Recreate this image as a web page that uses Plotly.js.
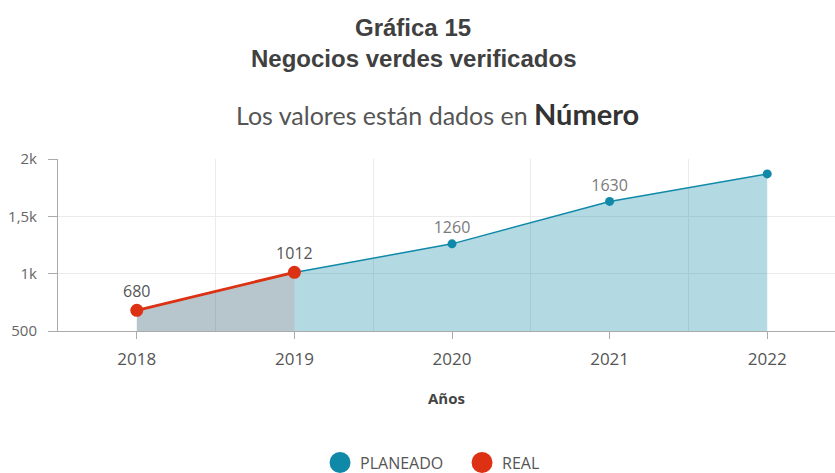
<!DOCTYPE html>
<html>
<head>
<meta charset="utf-8">
<script src="https://cdn.plot.ly/plotly-3.0.1.min.js"></script>
<style>html,body{margin:0;padding:0;background:#fff;}#chart{width:835px;height:473px;}</style>
</head>
<body>
<div id="chart"></div>
<script>
const years = [2018, 2019, 2020, 2021, 2022];
const planeado = [680, 1010, 1260, 1630, 1870];
const realYears = [2018, 2019];
const real = [680, 1012];
const planeadoLabels = ['', '', '1260', '1630', ''];
const realLabels = ['680', '1012'];
const yTickVals = [500, 1000, 1500, 2000];
const yTickText = ['500', '1k', '1,5k', '2k'];
const seriesNames = ['PLANEADO', 'REAL'];

const blue = '#1089a9';
const red = '#dc3112';

const traces = [
  {
    x: years, y: planeado, type: 'scatter', mode: 'lines+markers+text',
    name: seriesNames[0], showlegend: false,
    fill: 'tozeroy', fillcolor: 'rgba(18,137,168,0.32)',
    line: {color: blue, width: 1.5},
    marker: {color: blue, size: 9},
    text: planeadoLabels, textposition: 'top center',
    textfont: {family: 'Open Sans', size: 16, color: '#7a7a7a'},
    hoverinfo: 'x+y'
  },
  {
    x: realYears, y: real, type: 'scatter', mode: 'lines+markers+text',
    name: seriesNames[1], showlegend: false,
    fill: 'tozeroy', fillcolor: 'rgba(222,48,16,0.11)',
    line: {color: red, width: 2.8},
    marker: {color: red, size: 13},
    text: realLabels, textposition: 'top center',
    textfont: {family: 'Open Sans', size: 16, color: '#555'},
    hoverinfo: 'x+y'
  },
  {
    x: [null], y: [null], type: 'scatter', mode: 'markers', name: seriesNames[0],
    marker: {color: blue, size: 16, line: {color: blue, width: 5}}
  },
  {
    x: [null], y: [null], type: 'scatter', mode: 'markers', name: seriesNames[1],
    marker: {color: red, size: 16, line: {color: red, width: 5}}
  }
];

const layout = {
  width: 835, height: 473,
  margin: {l: 58, r: 0, t: 159, b: 142, autoexpand: false},
  paper_bgcolor: '#fff', plot_bgcolor: '#fff',
  font: {family: 'Open Sans', color: '#555'},
  showlegend: true,
  legend: {
    orientation: 'h', x: 0.52, xanchor: 'center', y: -0.765, yanchor: 'middle',
    font: {family: 'Open Sans', size: 16, color: '#555'},
    traceorder: 'normal', itemwidth: 30, entrywidth: 97
  },
  xaxis: {
    range: [2017.5, 2022.43],
    tickvals: years, ticktext: years.map(String),
    ticks: 'outside', ticklen: 7, tickcolor: '#aaa', tickwidth: 1,
    showline: true, linecolor: '#aaa', linewidth: 1,
    showgrid: false, zeroline: false,
    minor: {tick0: 2017.5, dtick: 1, showgrid: true, gridcolor: '#ebebeb', gridwidth: 1, ticklen: 0},
    tickfont: {family: 'Open Sans', size: 17, color: '#555'},
    ticklabelstandoff: 6,
    title: {text: '<b>Años</b>', font: {family: 'Open Sans', size: 15, color: '#444'}, standoff: 24}
  },
  yaxis: {
    range: [500, 2000],
    tickvals: yTickVals, ticktext: yTickText,
    ticks: 'outside', ticklen: 9, tickcolor: '#aaa', tickwidth: 1,
    ticklabelstandoff: 8,
    showline: true, linecolor: '#aaa', linewidth: 1,
    showgrid: true, gridcolor: '#ebebeb', gridwidth: 1, zeroline: false,
    tickfont: {family: 'Open Sans', size: 15, color: '#666'}
  },
  annotations: [
    {text: '<b>Gráfica 15</b>', xref: 'paper', yref: 'paper', x: 0.457, y: 1.767,
     xanchor: 'center', yanchor: 'middle', showarrow: false,
     font: {family: 'Liberation Sans', size: 24, color: '#404040'}},
    {text: '<b>Negocios verdes verificados</b>', xref: 'paper', yref: 'paper', x: 0.457, y: 1.587,
     xanchor: 'center', yanchor: 'middle', showarrow: false,
     font: {family: 'Liberation Sans', size: 24, color: '#404040'}},
    {text: 'Los valores están dados en <b><span style="font-size:29px;color:#333">Número</span></b>',
     xref: 'paper', yref: 'paper', x: 0.489, y: 1.267,
     xanchor: 'center', yanchor: 'middle', showarrow: false,
     font: {family: 'Lato', size: 25, color: '#555'}}
  ]
};

Plotly.newPlot('chart', traces, layout, {displayModeBar: false, staticPlot: true});
</script>
</body>
</html>
